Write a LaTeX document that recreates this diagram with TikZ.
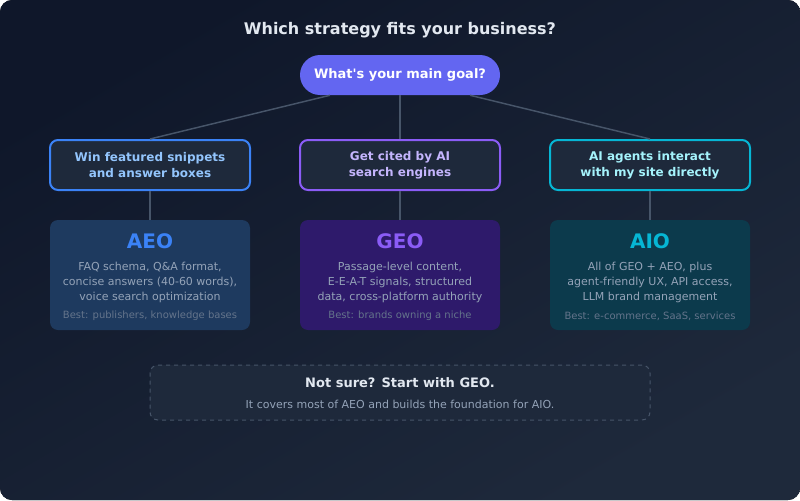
\documentclass[tikz,border=0pt]{standalone}
\usepackage{fontspec}
\setmainfont{DejaVu Sans}[Ligatures=TeXOff]
\usepackage{xcolor}
\usetikzlibrary{positioning, calc}

\definecolor{bgA}{HTML}{0F172A}
\definecolor{bgB}{HTML}{1E293B}
\definecolor{linkc}{HTML}{475569}
\definecolor{panel}{HTML}{1E293B}
\definecolor{rootc}{HTML}{6366F1}
\definecolor{titlec}{HTML}{E2E8F0}
\definecolor{bodyc}{HTML}{94A3B8}
\definecolor{bestc}{HTML}{64748B}
\definecolor{aeoc}{HTML}{3B82F6}
\definecolor{geoc}{HTML}{8B5CF6}
\definecolor{aioc}{HTML}{06B6D4}
\definecolor{aeot}{HTML}{93C5FD}
\definecolor{geot}{HTML}{C4B5FD}
\definecolor{aiot}{HTML}{A5F3FC}
\definecolor{aeof}{HTML}{1E3A5F}
\definecolor{geof}{HTML}{2E1A6B}
\definecolor{aiof}{HTML}{0C3A4C}

\begin{document}
\begin{tikzpicture}[
  x=0.75pt, y=-0.75pt,
  goalbox/.style={draw, line width=1.5pt, rounded corners=6pt, fill=panel,
                  minimum width=150pt, minimum height=37.5pt, inner sep=0pt,
                  font=\bfseries\fontsize{9}{12}\selectfont, align=center},
  stratbox/.style={rounded corners=6pt, minimum width=150pt,
                   minimum height=82.5pt, inner sep=0pt},
  head/.style={font=\bfseries\fontsize{15}{18}\selectfont, inner sep=0pt},
  body/.style={font=\fontsize{8.25}{11.25}\selectfont, text=bodyc,
               align=center, inner sep=0pt},
  best/.style={font=\fontsize{7.5}{9}\selectfont, text=bestc, inner sep=0pt},
  link/.style={draw=linkc, line width=1.1pt}
]
% background
\fill[rounded corners=9pt, top color=bgA, bottom color=bgB, shading angle=30]
  (0,0) rectangle (800,500);

\node[text=titlec, font=\bfseries\fontsize{12}{14}\selectfont] (title)
  at (400,30) {Which strategy fits your business?};

\node[fill=rootc, rounded corners=15pt, minimum width=150pt,
      minimum height=30pt, inner sep=0pt, text=white,
      font=\bfseries\fontsize{9.75}{12}\selectfont] (root)
  at (400,75) {What's your main goal?};

% goals
\node[goalbox, draw=aeoc, text=aeot] (goalA) at (150,165)
  {Win featured snippets\\and answer boxes};
\node[goalbox, draw=geoc, text=geot] (goalG) at (400,165)
  {Get cited by AI\\search engines};
\node[goalbox, draw=aioc, text=aiot] (goalI) at (650,165)
  {AI agents interact\\with my site directly};

% strategies
\node[stratbox, fill=aeof] (aeo) at (150,275) {};
\node[stratbox, fill=geof] (geo) at (400,275) {};
\node[stratbox, fill=aiof] (aio) at (650,275) {};

\node[head, text=aeoc] (aeoHead) at (150,241) {AEO};
\node[body] (aeoBody) at (150,282)
  {FAQ schema, Q\&A format,\\concise answers (40-60 words),\\voice search optimization};
\node[best] (aeoBest) at (150,316) {Best: publishers, knowledge bases};

\node[head, text=geoc] (geoHead) at (400,241) {GEO};
\node[body] (geoBody) at (400,282)
  {Passage-level content,\\E-E-A-T signals, structured\\data, cross-platform authority};
\node[best] (geoBest) at (400,316) {Best: brands owning a niche};

\node[head, text=aioc] (aioHead) at (650,241) {AIO};
\node[body] (aioBody) at (650,282)
  {All of GEO + AEO, plus\\agent-friendly UX, API access,\\LLM brand management};
\node[best] (aioBest) at (650,316) {Best: e-commerce, SaaS, services};

% connectors
\draw[link] ([xshift=-52.5pt]root.south) -- (goalA.north);
\draw[link] (root.south) -- (goalG.north);
\draw[link] ([xshift=52.5pt]root.south) -- (goalI.north);
\draw[link] (goalA.south) -- (aeo.north);
\draw[link] (goalG.south) -- (geo.north);
\draw[link] (goalI.south) -- (aio.north);

% note
\node[draw=linkc, dashed, line width=0.75pt, rounded corners=6pt, fill=panel,
      minimum width=375pt, minimum height=41.25pt, inner sep=0pt] (note)
  at (400,392.5) {};
\node[text=titlec, font=\bfseries\fontsize{9.75}{12}\selectfont] (noteHead)
  at (400,383) {Not sure? Start with GEO.};
\node[body] (noteBody) at (400,404)
  {It covers most of AEO and builds the foundation for AIO.};
\end{tikzpicture}
\end{document}
